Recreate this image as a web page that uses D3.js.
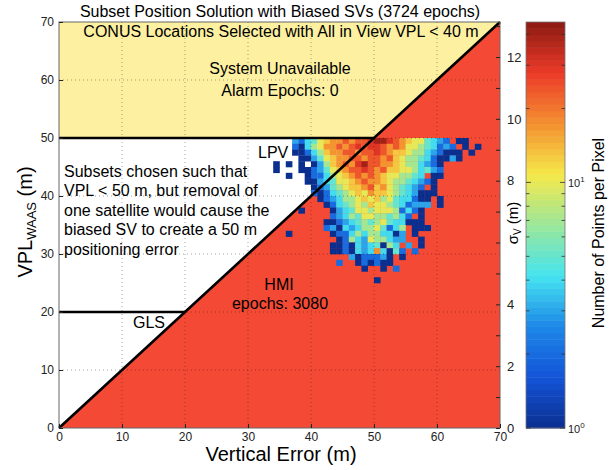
<!DOCTYPE html>
<html>
<head>
<meta charset="utf-8">
<script src="https://cdn.jsdelivr.net/npm/d3@7"></script>
<style>
  body { margin: 0; background: #fff; }
  svg { font-family: "Liberation Sans", Arial, Helvetica, sans-serif; }
</style>
</head>
<body>
<div id="chart"></div>
<script>
// axis ticks
var xTicks = [0, 10, 20, 30, 40, 50, 60, 70];
var yTicks = [0, 10, 20, 30, 40, 50, 60, 70];
var gridVals = [10, 20, 30, 40, 50, 60];
var sigmaTicks = [0, 1, 2, 3, 4, 5, 6, 7, 8, 9, 10, 11, 12, 13];
var sigmaLabels = [0, 2, 4, 8, 10, 12];   // 6 sits under the axis title
var vplPerSigma = 5.33;

// colorbar (log scale of counts)
var cbarMajor = [1, 10];
var cbarMinor = [2, 3, 4, 5, 6, 7, 8, 9, 20, 30, 40];
var countMax = 45;

// limits drawn as black lines
var alarmLimit = 50;
var glsLimit = 20;

// 2D histogram, 1 m bins. first column = 34 m vertical error,
// first row = VPL bin 49-50 m, going down. char = density level
var binX0 = 34;
var binTopVpl = 49;
var levelCounts = { "1": 1, "2": 2, "3": 3, "4": 4, "5": 5, "6": 7, "7": 10,
                    "8": 13, "9": 17, "a": 24, "b": 30, "c": 40 };
var densityRows = [
  "...32457899a9aabccba98775432.11...",
  "...2146799a9ababba9a977654232.1.1.",
  "...11246899aa9aaba988766432111.1..",
  "....11357899aa9aa9a87665421131....",
  "1.1.1.13689a9bcaa9987664321.......",
  "1...11235789aaba9a887764532.......",
  "..1..12246789a9a98776654.11.......",
  ".....113457789a99876654321........",
  "......123567889a89765432.1........",
  "......21245678798876543111........",
  ".......123466787867544211.1.......",
  "........12456768776542333.1.......",
  "....1....134577677762421..........",
  ".........2346577665642.1..........",
  "........1123456567544111..........",
  "........2314346675246.111.........",
  "..1......122464664413.1...........",
  "..........12643766433..1..........",
  ".........11214345164.3.1..........",
  ".........112143494152.2...........",
  "............3122231.1.............",
  "..........2..121211...............",
  "..............1..1.2..............",
  "..................................",
  "................1................."
];

var paragraph = ["Subsets chosen such that", "VPL < 50 m, but removal of",
                 "one satellite would cause the", "biased SV to create a 50 m",
                 "positioning error"];

var W = 613, H = 470;
var plot = { left: 59, top: 22, right: 500, bottom: 428 };
var cbar = { left: 526, right: 565 };

var svg = d3.select("#chart").append("svg")
    .attr("width", W)
    .attr("height", H);

var x = d3.scaleLinear().domain([0, 70]).range([plot.left, plot.right]);
var y = d3.scaleLinear().domain([0, 70]).range([plot.bottom, plot.top]);
var ySigma = d3.scaleLinear().domain([0, 70 / vplPerSigma]).range([plot.bottom, plot.top]);
var yCount = d3.scaleLog().domain([1, countMax]).range([plot.bottom, plot.top]);

// jet-like colormap
var jet = d3.scaleLinear()
    .domain([0, 0.125, 0.25, 0.375, 0.5, 0.625, 0.75, 0.875, 1])
    .range(["#0b2f8f", "#1354d8", "#1e88e8", "#45e4ef", "#9be79a",
            "#f6e84a", "#f39030", "#ec3a28", "#8b1a12"])
    .clamp(true);
var colorOf = function(c) { return jet(Math.log(c) / Math.log(countMax)); };

// ---- regions ----
var poly = d3.line().x(function(d) { return x(d[0]); }).y(function(d) { return y(d[1]); });

svg.append("rect")
    .attr("x", plot.left).attr("y", plot.top)
    .attr("width", plot.right - plot.left).attr("height", plot.bottom - plot.top)
    .style("fill", "#fff");

svg.append("path")
    .attr("d", poly([[0, alarmLimit], [alarmLimit, alarmLimit], [70, 70], [0, 70]]) + "Z")
    .style("fill", "#fdf0a0");

svg.append("path")
    .attr("d", poly([[0, 0], [70, 0], [70, 70]]) + "Z")
    .style("fill", "#f44a35");

// ---- heatmap cells ----
var cells = [];
densityRows.forEach(function(row, r) {
  row.split("").forEach(function(ch, j) {
    if (ch !== ".") cells.push({ ve: binX0 + j, vpl: binTopVpl - r, count: levelCounts[ch] });
  });
});

svg.append("g")
  .selectAll("rect")
  .data(cells)
  .enter()
  .append("rect")
    .attr("x", function(d) { return x(d.ve); })
    .attr("y", function(d) { return y(d.vpl + 1); })
    .attr("width", function(d) { return x(d.ve + 1) - x(d.ve) + 0.3; })
    .attr("height", function(d) { return y(d.vpl) - y(d.vpl + 1) + 0.3; })
    .style("fill", function(d) { return colorOf(d.count); });

// ---- dotted grid ----
var grid = svg.append("g")
    .style("stroke", "#000")
    .style("stroke-opacity", 0.35)
    .style("stroke-dasharray", "1,3");
gridVals.forEach(function(v) {
  grid.append("line").attr("x1", x(v)).attr("x2", x(v)).attr("y1", plot.top).attr("y2", plot.bottom);
  grid.append("line").attr("x1", plot.left).attr("x2", plot.right).attr("y1", y(v)).attr("y2", y(v));
});

// ---- limit lines ----
var lines = [
  [[0, 0], [70, 70]],
  [[0, alarmLimit], [alarmLimit, alarmLimit]],
  [[0, glsLimit], [glsLimit, glsLimit]]
];
svg.append("g")
  .selectAll("path")
  .data(lines)
  .enter()
  .append("path")
    .attr("d", poly)
    .style("fill", "none")
    .style("stroke", "#000")
    .style("stroke-width", 2.6);

// ---- annotations ----
var note = function(txt, px, py, anchor) {
  svg.append("text")
    .attr("x", px).attr("y", py)
    .attr("text-anchor", anchor || "middle")
    .style("font-size", "16px")
    .style("fill", "#000")
    .text(txt);
};
note("Subset Position Solution with Biased SVs (3724 epochs)", 280, 17);
note("CONUS Locations Selected with All in View VPL < 40 m", 281, 36.5);
note("System Unavailable", 280, 74);
note("Alarm Epochs: 0", 280, 95.5);
note("LPV", 258, 158, "start");
note("GLS", 133, 328, "start");
note("HMI", 279, 290);
note("epochs: 3080", 280, 309);
paragraph.forEach(function(t, i) { note(t, 64, 176.5 + i * 19.5, "start"); });

// ---- frame ----
svg.append("rect")
    .attr("x", plot.left).attr("y", plot.top)
    .attr("width", plot.right - plot.left).attr("height", plot.bottom - plot.top)
    .style("fill", "none")
    .style("stroke", "#666")
    .style("stroke-width", 1);

// ---- axes ----
var styleAxis = function(g, size) {
  g.select(".domain").remove();
  g.selectAll("line").style("stroke", "#222");
  g.selectAll("text").style("font-size", size).style("fill", "#222")
    .style("font-family", "'Liberation Sans', Arial, sans-serif");
};

svg.append("g")
    .attr("transform", "translate(" + plot.left + ",0)")
    .call(d3.axisLeft(y).tickValues(yTicks).tickSize(-4).tickPadding(5))
    .call(styleAxis, "12px");

svg.append("g")
    .attr("transform", "translate(0," + plot.bottom + ")")
    .call(d3.axisBottom(x).tickValues(xTicks).tickSize(-4).tickPadding(4))
    .call(styleAxis, "12px");

svg.append("g")
    .attr("transform", "translate(" + plot.right + ",0)")
    .call(d3.axisRight(ySigma).tickValues(sigmaTicks).tickSize(-4).tickPadding(7)
      .tickFormat(function(d) { return sigmaLabels.indexOf(d) >= 0 ? d : ""; }))
    .call(styleAxis, "13px");

// axis titles
svg.append("text")
    .attr("x", 281).attr("y", 461)
    .attr("text-anchor", "middle")
    .style("font-size", "20px")
    .text("Vertical Error (m)");

var yl = svg.append("text")
    .attr("transform", "translate(32,222) rotate(-90)")
    .attr("text-anchor", "middle")
    .style("font-size", "20px");
yl.append("tspan").text("VPL");
yl.append("tspan").attr("dy", 4).style("font-size", "13px").text("WAAS");
yl.append("tspan").attr("dy", -4).text(" (m)");

var sl = svg.append("text")
    .attr("transform", "translate(518,223) rotate(-90)")
    .attr("text-anchor", "middle")
    .style("font-size", "15px");
sl.append("tspan").text("\u03c3");
sl.append("tspan").attr("dy", 3).style("font-size", "10px").text("V");
sl.append("tspan").attr("dy", -3).text(" (m)");

// ---- colorbar ----
var nBands = 64;
var tScale = d3.scaleLinear().domain([0, 1]).range([plot.bottom, plot.top]);
svg.append("g")
  .selectAll("rect")
  .data(d3.range(nBands))
  .enter()
  .append("rect")
    .attr("x", cbar.left)
    .attr("width", cbar.right - cbar.left)
    .attr("y", function(i) { return tScale((i + 1) / nBands); })
    .attr("height", function(i) { return tScale(i / nBands) - tScale((i + 1) / nBands) + 0.5; })
    .style("fill", function(i) { return jet((i + 0.5) / nBands); });

svg.append("rect")
    .attr("x", cbar.left).attr("y", plot.top)
    .attr("width", cbar.right - cbar.left).attr("height", plot.bottom - plot.top)
    .style("fill", "none")
    .style("stroke", "#777")
    .style("stroke-width", 0.8);

var cticks = svg.append("g").style("stroke", "#333").style("stroke-width", 0.8);
cbarMajor.concat(cbarMinor).forEach(function(c) {
  var len = cbarMajor.indexOf(c) >= 0 ? 5 : 3.5;
  cticks.append("line").attr("x1", cbar.left).attr("x2", cbar.left + len)
    .attr("y1", yCount(c)).attr("y2", yCount(c));
  cticks.append("line").attr("x1", cbar.right).attr("x2", cbar.right - len)
    .attr("y1", yCount(c)).attr("y2", yCount(c));
});

cbarMajor.forEach(function(c) {
  var t = svg.append("text")
      .attr("x", cbar.right + 3)
      .attr("y", yCount(c) + 5)
      .style("font-size", "11px")
      .style("fill", "#222");
  t.append("tspan").text("10");
  t.append("tspan").attr("dy", -5).style("font-size", "8px").text(Math.round(Math.log10(c)));
});

svg.append("text")
    .attr("transform", "translate(604,233) rotate(-90)")
    .attr("text-anchor", "middle")
    .style("font-size", "16px")
    .text("Number of Points per Pixel");
</script>
</body>
</html>
